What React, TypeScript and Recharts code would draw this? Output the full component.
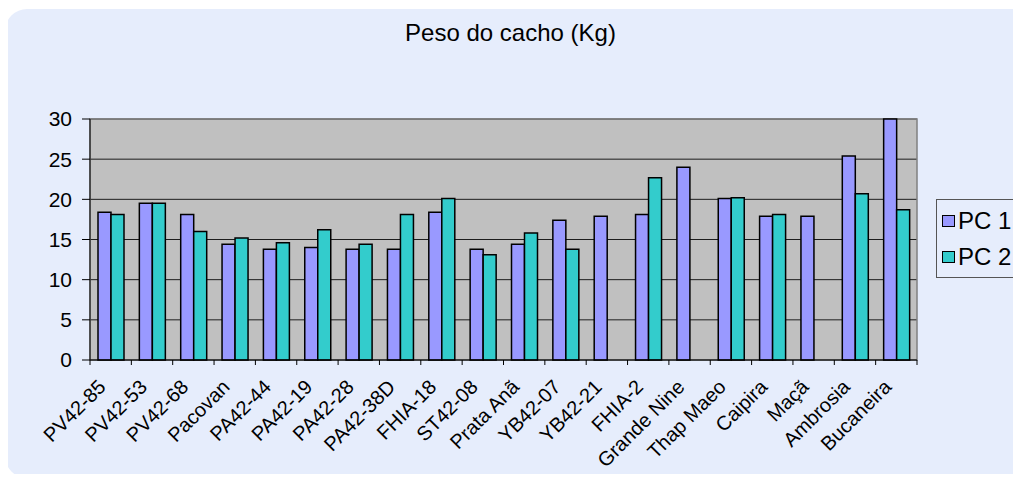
import { BarChart, Bar, XAxis, YAxis, CartesianGrid, ReferenceArea } from "recharts";

const cultivares = [
  "PV42-85", "PV42-53", "PV42-68", "Pacovan", "PA42-44", "PA42-19", "PA42-28",
  "PA42-38D", "FHIA-18", "ST42-08", "Prata Anã", "YB42-07", "YB42-21", "FHIA-2",
  "Grande Nine", "Thap Maeo", "Caipira", "Maçã", "Ambrosia", "Bucaneira",
];
const pc1 = [18.4, 19.5, 18.1, 14.4, 13.8, 14.0, 13.8, 13.8, 18.4, 13.8, 14.4, 17.4, 17.9, 18.1, 24.0, 20.1, 17.9, 17.9, 25.4, 30.0];
const pc2 = [18.1, 19.5, 16.0, 15.2, 14.6, 16.2, 14.4, 18.1, 20.1, 13.1, 15.8, 13.8, null, 22.7, null, 20.2, 18.1, null, 20.7, 18.7];
const yTicks = [0, 5, 10, 15, 20, 25, 30];
const series = [
  { key: "pc1", label: "PC 1", color: "#9999FF" },
  { key: "pc2", label: "PC 2", color: "#33CCCC" },
];

const data = cultivares.map((nome, i) => ({ nome, pc1: pc1[i], pc2: pc2[i] }));

const FONT = "'Liberation Sans', Arial, sans-serif";
const BAND = 827 / cultivares.length;

function CategoryTick(props: any) {
  const { x, y, payload, index } = props;
  const half = BAND / 2;
  return (
    <g>
      <line x1={x - half} y1={y - 8} x2={x - half} y2={y - 3} stroke="#000" />
      {index === cultivares.length - 1 && (
        <line x1={x + half} y1={y - 8} x2={x + half} y2={y - 3} stroke="#000" />
      )}
      <g transform={`translate(${x - 8},${y + 16})`}>
        <text
          transform="rotate(-45)"
          textAnchor="end"
          fontFamily={FONT}
          fontSize={20}
          fill="#000"
          dy={6}
        >
          {payload.value}
        </text>
      </g>
    </g>
  );
}

export default function App() {
  return (
    <div style={{ position: "relative", width: 1021, height: 482, margin: -8, overflow: "hidden", background: "#fff" }}>
      <div
        style={{
          position: "absolute",
          left: 5,
          top: 9,
          width: 1040,
          height: 469,
          borderRadius: 22,
          background: "#E6EDFC",
        }}
      />
      <div
        style={{
          position: "absolute",
          top: 19,
          left: 0,
          width: 1021,
          textAlign: "center",
          fontFamily: FONT,
          fontSize: 24,
        }}
      >
        Peso do cacho (Kg)
      </div>
      <div style={{ position: "absolute", left: 0, top: 0 }}>
        <BarChart
          width={1021}
          height={482}
          data={data}
          margin={{ top: 119, right: 104, bottom: 0, left: 30 }}
          barCategoryGap={8}
          barGap={0}
        >
          <CartesianGrid vertical={false} fill="#C0C0C0" stroke="#000" strokeOpacity={0.85} />
          <ReferenceArea y1={0} y2={30} fill="none" stroke="#808080" strokeWidth={1.5} />
          <XAxis
            dataKey="nome"
            interval={0}
            height={122}
            tickLine={false}
            axisLine={{ stroke: "#000" }}
            tick={<CategoryTick />}
          />
          <YAxis
            width={60}
            domain={[0, 30]}
            ticks={yTicks}
            interval={0}
            tickSize={8}
            tickMargin={10}
            axisLine={{ stroke: "#000" }}
            tickLine={{ stroke: "#000" }}
            tick={{ fill: "#000", fontSize: 21, fontFamily: FONT }}
          />
          {series.map((s) => (
            <Bar
              key={s.key}
              dataKey={s.key}
              name={s.label}
              fill={s.color}
              stroke="#000"
              strokeWidth={1.5}
              isAnimationActive={false}
            />
          ))}
        </BarChart>
      </div>
      <div
        style={{
          position: "absolute",
          left: 936,
          top: 199,
          width: 110,
          height: 79,
          border: "1px solid #555",
          boxSizing: "border-box",
          padding: "3px 0 0 5px",
          fontFamily: FONT,
          fontSize: 24,
        }}
      >
        {series.map((s) => (
          <div key={s.key} style={{ display: "flex", alignItems: "center", height: 36 }}>
            <span
              style={{
                display: "inline-block",
                width: 11,
                height: 10,
                background: s.color,
                border: "1.5px solid #000",
                marginRight: 3,
              }}
            />
            <span>{s.label}</span>
          </div>
        ))}
      </div>
    </div>
  );
}
